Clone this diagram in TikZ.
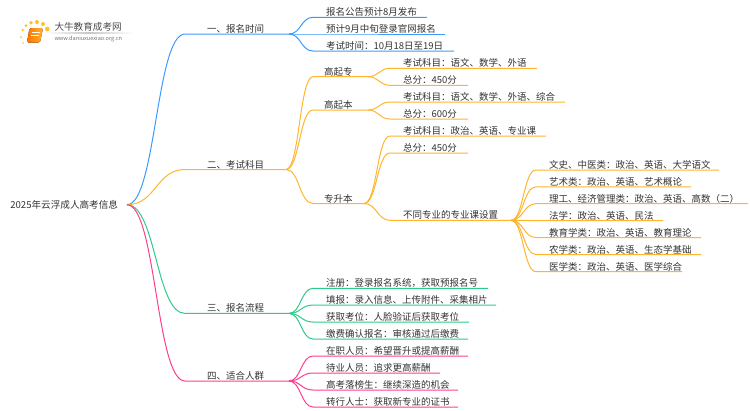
\documentclass[tikz,border=0pt]{standalone}
\usepackage{fontspec}
\setmainfont{Noto Sans CJK SC}
\usetikzlibrary{calc}
\definecolor{mapblue}{HTML}{3D9BFF}
\definecolor{maporange}{HTML}{FFB52E}
\definecolor{mapgreen}{HTML}{2CCB8A}
\definecolor{mappink}{HTML}{FF3D8E}
\definecolor{maptext}{HTML}{333333}
\tikzset{
	twig/.style 2 args={anchor=south west, inner sep=0, text height=9pt, text depth=1pt,
		align=left, text width=#1pt, text=maptext, execute at begin node={\hspace*{#2pt}}}
}
% curve from the end of one underline to the start of the next
\newcommand{\twiglink}[2]{
	\coordinate (m) at ($(#1)!.5!(#2.south west)$);
	\draw (#1) .. controls (m |- #1) and (m |- #2.south west) .. (#2.south west) -- (#2.south east);
}
\begin{document}
\begin{tikzpicture}[x=1pt, y=-1pt, font=\fontsize{9.5pt}{11pt}\selectfont, text=maptext, line width=1pt]
	\useasboundingbox (0,0) rectangle (750,410);
	%logo
	\foreach \x/\y/\r in {23/43/.8,21/37/1,22.7/30/1.3,26/25.7/1.5,31/22.7/1.8,37/22/2,43/24/2,47.3/29/2.3}
	\fill[maporange!85!yellow] (\x,\y) circle (\r);
	\fill[rounded corners=1.5pt, left color=orange!90!red, right color=maporange] (29.5,28) -- (43,28) -- (40,42.5) -- (27,42.5) -- cycle;
	\draw[white, line width=.6pt] (31.5,32) -- (39.5,32) (31,35) -- (38.5,35);
	\shade[left color=white, right color=white, middle color=black!22] (45,32.8) rectangle (133,33.4);
	\node[anchor=west, inner sep=0, font=\fontsize{9.6pt}{11pt}\selectfont, text=black!70] (logo title) at (54,27) {大牛教育成考网};
	\node[anchor=west, inner sep=0, font=\fontsize{5.6pt}{7pt}\selectfont, text=black!55] (logo url) at (54,38.5) {www.daniuxuexiao.org.cn};
	%root
	\node[anchor=east, inner xsep=8.5pt, inner ysep=0, font=\fontsize{9.6pt}{11pt}\selectfont] (root) at (127,204.7) {2025年云浮成人高考信息};
	%first level
	\foreach \name/\yy/\ww/\txt in {one/34/103/一、报名时间, two/169.5/100/二、考试科目, three/313.4/103/三、报名流程, four/381/103/四、适合人群}
	\node[twig={\ww}{21.5}] (\name) at (185,\yy) {\txt};
	\begin{scope}[color=mapblue]
		\twiglink{root.east}{one}
		\foreach \name/\yy/\ww/\txt in {notice/17.3/113/报名公告预计8月发布, signup/34/131/预计9月中旬登录官网报名, date/51/140/考试时间：10月18日至19日} {
			\node[twig={\ww}{12.5}] (\name) at (313,\yy) {\txt};
			\twiglink{one.south east}{\name}
		}
	\end{scope}
	\begin{scope}[color=maporange]
		\twiglink{root.east}{two}
		%second level
		\foreach \name/\yy/\ww/\txt in {gqz/76.7/54/高起专, gqb/110/54/高起本, zsb/203.5/50/专升本} {
			\node[twig={\ww}{10.5}] (\name) at (313,\yy) {\txt};
			\twiglink{two.south east}{\name}
		}
		\foreach \name/\up/\yy/\ww/\txt in {gqza/gqz/68.3/146/考试科目：语文、数学、外语, gqzb/gqz/85.3/77/总分：450分,
			gqba/gqb/102/174/考试科目：语文、数学、外语、综合, gqbb/gqb/119/77/总分：600分,
			zsba/zsb/136/155/考试科目：政治、英语、专业课, zsbb/zsb/153/77/总分：450分, zsbc/zsb/220.3/120/不同专业的专业课设置} {
			\node[twig={\ww}{12.5}] (\name) at (390,\yy) {\txt};
			\twiglink{\up.south east}{\name}
		}
		\foreach \name/\yy/\ww/\txt in {wenshi/170/182/文史、中医类：政治、英语、大学语文, yishu/186.8/154/艺术类：政治、英语、艺术概论,
			ligong/203.7/211/理工、经济管理类：政治、英语、高数（二）, faxue/220.6/126/法学：政治、英语、民法,
			jiaoyu/237.5/164/教育学类：政治、英语、教育理论, nongxue/254.5/164/农学类：政治、英语、生态学基础, yixue/271.7/145/医学类：政治、英语、医学综合} {
			\node[twig={\ww}{12.5}] (\name) at (536,\yy) {\txt};
			\twiglink{zsbc.south east}{\name}
		}
	\end{scope}
	\begin{scope}[color=mapgreen]
		\twiglink{root.east}{three}
		\foreach \name/\yy/\ww/\txt in {reg/288.3/174/注册：登录报名系统，获取预报名号, fill/305/182/填报：录入信息、上传附件、采集相片,
			seat/322/155/获取考位：人脸验证后获取考位, pay/339/154/缴费确认报名：审核通过后缴费} {
			\node[twig={\ww}{12.5}] (\name) at (313,\yy) {\txt};
			\twiglink{three.south east}{\name}
		}
	\end{scope}
	\begin{scope}[color=mappink]
		\twiglink{root.east}{four}
		\foreach \name/\yy/\ww/\txt in {onjob/356/154/在职人员：希望晋升或提高薪酬, idle/373/126/待业人员：追求更高薪酬,
			retry/390/144/高考落榜生：继续深造的机会, change/407/144/转行人士：获取新专业的证书} {
			\node[twig={\ww}{12.5}] (\name) at (313,\yy) {\txt};
			\twiglink{four.south east}{\name}
		}
	\end{scope}
\end{tikzpicture}
\end{document}
